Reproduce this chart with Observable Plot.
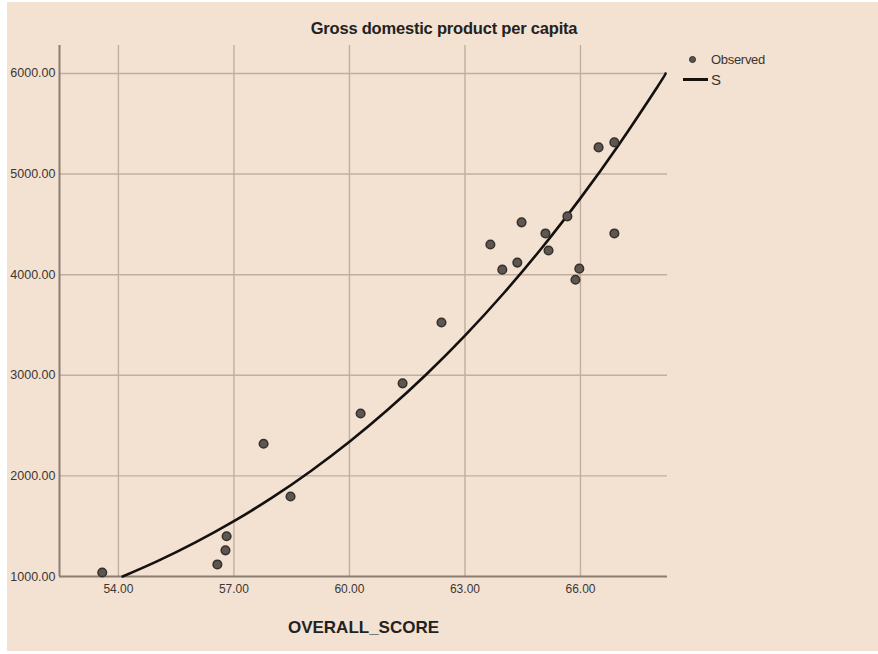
<!DOCTYPE html>
<html>
<head>
<meta charset="utf-8">
<script src="https://cdn.jsdelivr.net/npm/d3@7"></script>
<script src="https://cdn.jsdelivr.net/npm/@observablehq/plot@0.6"></script>
<style>
  html, body { margin: 0; padding: 0; background: #ffffff; }
  #wrap { position: relative; width: 878px; height: 654px; background: #ffffff; overflow: hidden; }
  #bg { position: absolute; left: 7px; top: 2px; right: 0; bottom: 3px; background: #f3e2d2; }
  #title { position: absolute; left: 0; top: 19px; width: 888px; text-align: center;
           font-family: "Liberation Sans Narrow", "Liberation Sans", Arial, sans-serif;
           font-weight: bold; font-size: 16.5px; color: #222; letter-spacing: -0.2px; }
  #chart { position: absolute; left: 0; top: 44px; }
  #legend { position: absolute; left: 680px; top: 49px;
            font-family: "Liberation Sans Narrow", "Liberation Sans", Arial, sans-serif; color: #3a3530; }
  .li { display: flex; align-items: center; height: 20px; }
  .sw { width: 31px; display: flex; justify-content: flex-start; align-items: center; }
  .dot { width: 7px; height: 7px; border-radius: 50%; background: #5b544e; border: 1.5px solid #332f2b; box-sizing: border-box; margin-left: 9px; }
  .ln { width: 25px; height: 3px; background: #151210; margin-left: 3px; }
</style>
</head>
<body>
<div id="wrap">
  <div id="bg"></div>
  <div id="title">Gross domestic product per capita</div>
  <div id="chart"></div>
  <div id="legend">
    <div class="li"><div class="sw"><div class="dot"></div></div><span style="font-size:13px;letter-spacing:-0.3px;">Observed</span></div>
    <div class="li"><div class="sw"><div class="ln"></div></div><span style="font-size:15px;">S</span></div>
  </div>
</div>
<script>
const scoreObs = [53.58, 56.57, 56.78, 56.81, 57.77, 58.47, 60.29, 61.38, 62.39, 63.66, 63.97,
                  64.36, 64.47, 65.09, 65.17, 65.66, 65.87, 65.97, 66.47, 66.88, 66.88];
const gdpObs   = [1040, 1120, 1260, 1400, 2320, 1795, 2620, 2920, 3525, 4300, 4050,
                  4120, 4520, 4410, 4240, 4580, 3950, 4060, 5265, 5315, 4410];

// Fitted "S" curve
const curveScore = [54.11, 55, 56, 57, 58, 59, 60, 61, 62, 63, 64, 65, 66, 67, 68, 68.21];
const curveGdp   = [1000, 1150, 1339, 1550, 1786, 2049, 2339, 2659, 3010, 3394, 3813, 4268, 4761, 5294, 5868, 5998];

// Axes
const xTicks = [54, 57, 60, 63, 66];
const yTicks = [1000, 2000, 3000, 4000, 5000, 6000];
const xDomain = [52.47, 68.26];
const yDomain = [1000, 6278];

const points = scoreObs.map((s, i) => ({score: s, gdp: gdpObs[i]}));
const curve = curveScore.map((s, i) => ({score: s, gdp: curveGdp[i]}));

const font = '"Liberation Sans", Arial, sans-serif';

const chart = Plot.plot({
  width: 672,
  height: 610,
  marginLeft: 59,
  marginRight: 5,
  marginTop: 1,
  marginBottom: 78,
  style: {background: "transparent", fontFamily: font, fontSize: "12px", color: "#3b3733"},
  x: {domain: xDomain},
  y: {domain: yDomain},
  marks: [
    Plot.gridX(xTicks, {stroke: "#c0af9d", strokeOpacity: 1, strokeWidth: 1.4}),
    Plot.gridY(yTicks.slice(1), {stroke: "#c0af9d", strokeOpacity: 1, strokeWidth: 1.4}),
    Plot.ruleX([xDomain[0]], {stroke: "#8a7d72", strokeWidth: 2}),
    Plot.ruleY([yDomain[0]], {stroke: "#8a7d72", strokeWidth: 2}),
    Plot.axisX(xTicks, {tickSize: 0, tickPadding: 8, tickFormat: d => d.toFixed(2), label: null, fontSize: 12}),
    Plot.axisY(yTicks, {tickSize: 0, tickPadding: 4, tickFormat: d => d.toFixed(2), label: null, fontSize: 12.5}),
    Plot.line(curve, {x: "score", y: "gdp", stroke: "#141110", strokeWidth: 2.6, curve: "natural"}),
    Plot.dot(points, {x: "score", y: "gdp", r: 4.3, fill: "#5e5650", stroke: "#35302c", strokeWidth: 1.5}),
    Plot.text(["OVERALL_SCORE"], {frameAnchor: "bottom", dy: 56, text: d => d, fontSize: 17,
      fontWeight: "bold", fill: "#222", fontFamily: '"Liberation Sans Narrow", "Liberation Sans", Arial, sans-serif'})
  ]
});
document.getElementById("chart").appendChild(chart);
</script>
</body>
</html>
